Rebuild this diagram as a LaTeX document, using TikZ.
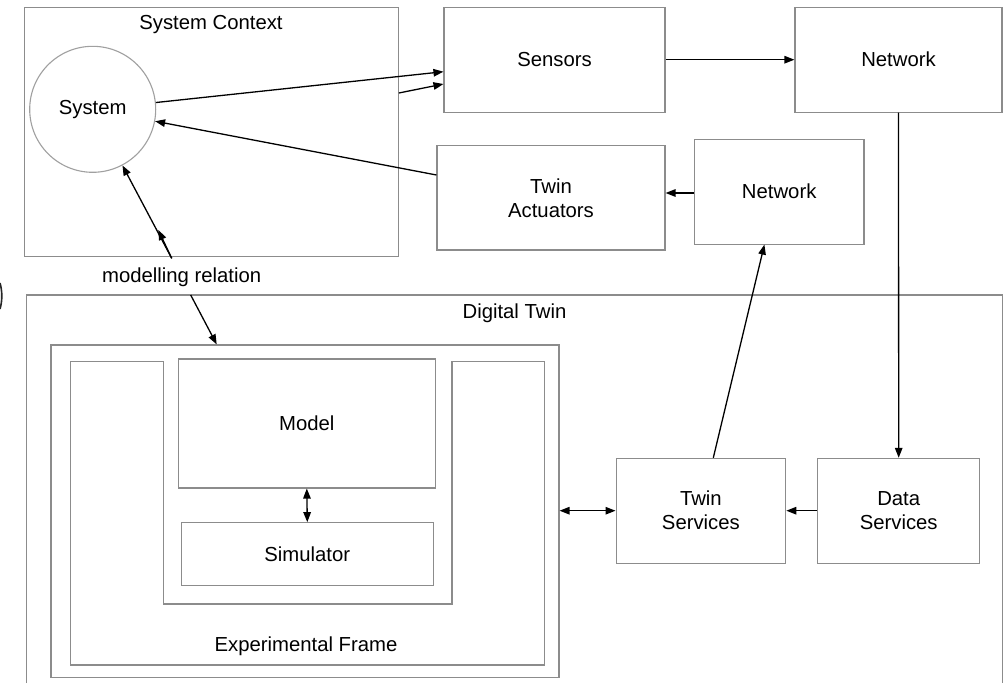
\documentclass[tikz,border=0pt]{standalone}
\usepackage{fontspec}
\setmainfont{Liberation Sans}
\usetikzlibrary{arrows.meta,calc}
\definecolor{boxgray}{RGB}{140,140,140}
\definecolor{circgray}{RGB}{160,160,160}
\newcommand{\dfont}{\fontsize{20.3}{24}\selectfont}
\tikzset{
  box/.style={draw=boxgray, line width=1.1pt, rectangle, inner sep=0pt, anchor=center, font=\dfont, align=center},
  txt/.style={inner sep=0pt, font=\dfont, align=center},
  arr/.style={draw=black, line width=1.3pt, -{Triangle[length=10pt,width=7.5pt]}},
  darr/.style={draw=black, line width=1.3pt, {Triangle[length=10pt,width=7.5pt]}-{Triangle[length=10pt,width=7.5pt]}},
}
\begin{document}
\begin{tikzpicture}[x=1pt,y=-1pt]
\useasboundingbox (0,0) rectangle (1004,683);
\fill[white] (0,0) rectangle (1004,683);

% System context
\node[box, minimum width=374pt, minimum height=249.4pt] (sysctx) at (211.3,132) {};
\node[txt] (sysctxlbl) at (211,25) {System Context};
\node[draw=circgray, line width=1.1pt, circle, minimum size=126pt, inner sep=0pt, font=\dfont] (system) at (92.7,109.3) {System};

% Top row
\node[box, minimum width=221pt, minimum height=104.7pt] (sensors) at (554.5,59.7) {Sensors};
\node[box, minimum width=207pt, minimum height=104.7pt] (net1) at (898.5,59.7) {Network};
\node[box, minimum width=228pt, minimum height=104.3pt] (actuators) at (551,197.8) {Twin\\Actuators};
\node[box, minimum width=169.6pt, minimum height=104.7pt] (net2) at (779.2,191.7) {Network};

% Digital Twin frame (open at the bottom)
\draw[draw=boxgray, line width=1.1pt] (26.7,683) -- (26.7,295) -- (1002.4,295) -- (1002.4,683);
\node[txt] (dtlbl) at (514.5,313.3) {Digital Twin};
\node[txt, fill=white, inner xsep=7pt, inner ysep=4pt] (mrel) at (181.7,277.7) {modelling relation};

% Twin services / data services
\node[box, minimum width=169.7pt, minimum height=104.7pt] (twinsrv) at (700.9,510.7) {Twin\\Services};
\node[box, minimum width=162pt, minimum height=104.7pt] (datasrv) at (898.7,510.7) {Data\\Services};

% Experimental frame
\node[box, minimum width=508pt, minimum height=332.5pt] (expouter) at (305,511.2) {};
\draw[draw=boxgray, line width=1.1pt] (70.8,361.7) -- (163.4,361.7) -- (163.4,604) -- (452,604) -- (452,361.7) -- (544.2,361.7) -- (544.2,665) -- (70.8,665) -- cycle;
\node[txt] (explbl) at (306,646) {Experimental Frame};
\node[box, minimum width=257.5pt, minimum height=129pt] (model) at (306.8,423.5) {Model};
\node[box, minimum width=251.8pt, minimum height=62.6pt] (simulator) at (307.3,554) {Simulator};

% small dark mark at left edge
\draw[line width=1.6pt, black!85] (0,283) .. controls (2.4,291) and (2.4,301) .. (0,309);

% Coordinates for free ends
\coordinate (mrA) at (171.7,258.3);
\coordinate (mrM) at (158.3,230);
\coordinate (mrB) at (190.7,295);

% Connectors
\draw[arr] (system) -- ([yshift=-12pt]sensors.west);
\draw[arr] ([yshift=39pt]sysctx.east) -- ([yshift=-24.3pt]sensors.west);
\draw[arr] ([yshift=22.8pt]actuators.west) -- (system);
\draw[arr] (mrA) -- (system);
\draw[arr] (mrA) -- (mrM);
\draw[arr] (mrB) -- ([xshift=-88.3pt]expouter.north);
\draw[arr] (sensors.east) -- (net1.west);
\draw[arr] (net1.south) -- (datasrv.north);
\draw[arr] (datasrv.west) -- (twinsrv.east);
\draw[darr] (twinsrv.west) -- (expouter.east |- twinsrv.west);
\draw[arr] ([xshift=12.4pt]twinsrv.north) -- ([xshift=-14.8pt]net2.south);
\draw[arr] ([yshift=-1.3pt]net2.west) -- ([yshift=-1.3pt]actuators.east |- net2.west);
\draw[darr] (model.south) -- (simulator.north);
\end{tikzpicture}
\end{document}
